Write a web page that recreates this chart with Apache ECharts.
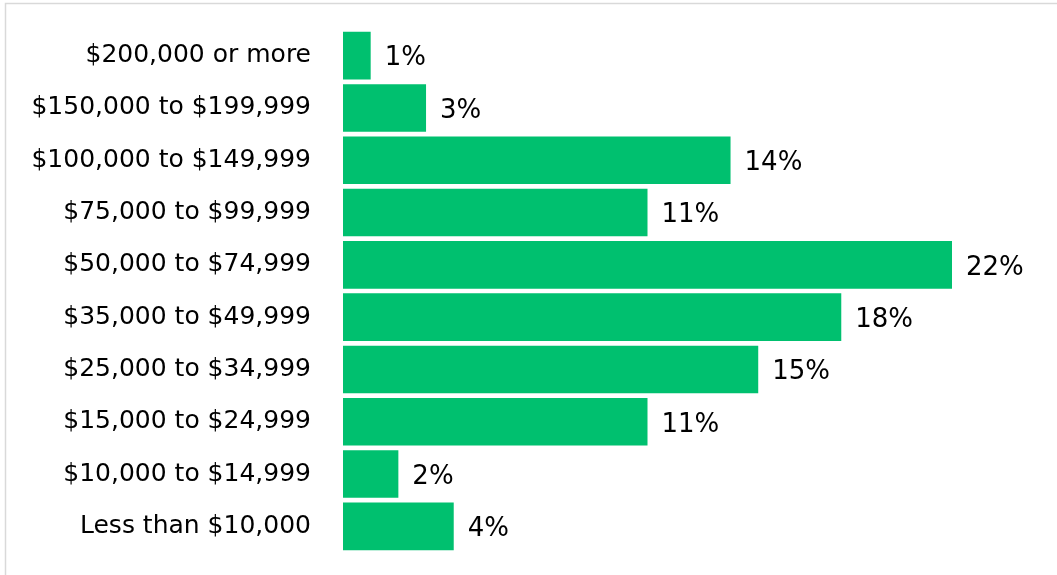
<!DOCTYPE html>
<html>
<head>
<meta charset="utf-8">
<script src="https://cdn.jsdelivr.net/npm/echarts@6/dist/echarts.min.js"></script>
<style>
  html, body { margin: 0; padding: 0; background: #fff; }
  #chart { width: 1057px; height: 575px; }
</style>
</head>
<body>
<div id="chart"></div>
<script>
// Household income brackets, listed bottom to top as drawn on the category axis
const incomeBrackets = [
  'Less than $10,000',
  '$10,000 to $14,999',
  '$15,000 to $24,999',
  '$25,000 to $34,999',
  '$35,000 to $49,999',
  '$50,000 to $74,999',
  '$75,000 to $99,999',
  '$100,000 to $149,999',
  '$150,000 to $199,999',
  '$200,000 or more'
];
// Share of households in each bracket (percent)
const sharePercent = [4, 2, 11, 15, 18, 22, 11, 14, 3, 1];

const FONT = '"DejaVu Sans", sans-serif';
const chart = echarts.init(document.getElementById('chart'), null, { renderer: 'canvas' });

chart.setOption({
  backgroundColor: '#ffffff',
  animation: false,
  graphic: [{
    type: 'rect',
    shape: { x: 5.5, y: 3.5, width: 1100, height: 700 },
    style: { fill: 'none', stroke: '#d9d9d9', lineWidth: 1.5 },
    silent: true
  }],
  grid: { left: 343, right: 105, top: 29.5, bottom: 22.5, containLabel: false },
  xAxis: {
    type: 'value',
    min: 0,
    max: 22,
    show: false
  },
  yAxis: {
    type: 'category',
    data: incomeBrackets,
    axisLine: { show: false },
    axisTick: { show: false },
    axisLabel: {
      margin: 32,
      color: '#000000',
      fontFamily: FONT,
      fontSize: 25,
      padding: [3, 0, 0, 0]
    }
  },
  series: [{
    type: 'bar',
    data: sharePercent,
    barCategoryGap: '9%',
    itemStyle: { color: '#00C06F' },
    label: {
      show: true,
      position: 'right',
      distance: 14,
      offset: [0, 3],
      formatter: p => p.value + '%',
      color: '#000000',
      fontFamily: FONT,
      fontSize: 26
    }
  }]
});
</script>
</body>
</html>
